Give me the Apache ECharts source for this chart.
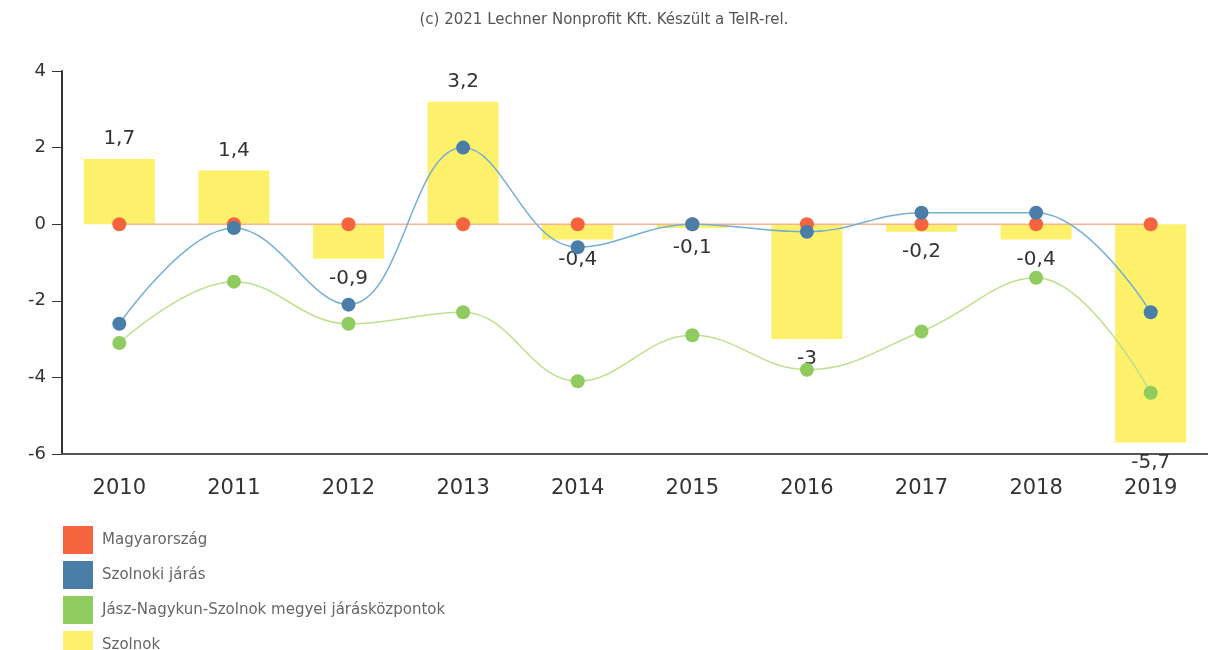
<!DOCTYPE html>
<html lang="hu" style="height: 100%">
<head>
  <meta charset="utf-8">
</head>
<body style="height: 100%; margin: 0; background: #fff">
  <div id="container" style="width: 1208px; height: 650px"></div>

  <script type="text/javascript" src="https://fastly.jsdelivr.net/npm/echarts@6/dist/echarts.min.js"></script>

  <script type="text/javascript">
    var years = ['2010', '2011', '2012', '2013', '2014', '2015', '2016', '2017', '2018', '2019'];
    var magyarorszag = [0, 0, 0, 0, 0, 0, 0, 0, 0, 0];
    var szolnokiJaras = [-2.6, -0.1, -2.1, 2.0, -0.6, 0.0, -0.2, 0.3, 0.3, -2.3];
    var jaraskozpontok = [-3.1, -1.5, -2.6, -2.3, -4.1, -2.9, -3.8, -2.8, -1.4, -4.4];
    var szolnok = [1.7, 1.4, -0.9, 3.2, -0.4, -0.1, -3, -0.2, -0.4, -5.7];
    var yTicks = [-6, -4, -2, 0, 2, 4];

    var dom = document.getElementById('container');
    var myChart = echarts.init(dom, null, { renderer: 'canvas' });

    function comma(v) {
      return String(v).replace('.', ',');
    }

    function lineSeries(name, data, dotColor, lineColor) {
      return {
        name: name,
        type: 'line',
        data: data,
        smooth: 0.4,
        symbol: 'circle',
        symbolSize: 14,
        z: 3,
        itemStyle: { color: dotColor },
        lineStyle: { color: lineColor, width: 1.5 }
      };
    }

    var option = {
      animation: false,
      title: {
        text: '(c) 2021 Lechner Nonprofit Kft. Készült a TeIR-rel.',
        left: 'center',
        top: 8,
        textStyle: { fontSize: 15, fontWeight: 'normal', color: '#555', fontFamily: 'DejaVu Sans' }
      },
      legend: {
        orient: 'vertical',
        left: 58,
        top: 521,
        height: 200,
        itemWidth: 30,
        itemHeight: 28,
        itemGap: 7,
        icon: 'rect',
        textStyle: { fontSize: 15, color: '#666', fontFamily: 'DejaVu Sans', padding: [0, 0, 0, 4] },
        data: ['Magyarország', 'Szolnoki járás', 'Jász-Nagykun-Szolnok megyei járásközpontok', 'Szolnok']
      },
      grid: { left: 62, right: 0, top: 71, bottom: 196 },
      xAxis: {
        type: 'category',
        data: years,
        axisLine: { onZero: false, lineStyle: { color: '#555', width: 2 } },
        axisTick: { alignWithLabel: true, length: 6, lineStyle: { color: '#555' } },
        axisLabel: { fontSize: 21, color: '#333', margin: 24, fontFamily: 'DejaVu Sans' }
      },
      yAxis: {
        type: 'value',
        min: yTicks[0],
        max: yTicks[yTicks.length - 1],
        interval: 2,
        splitLine: { show: false },
        axisLine: { show: true, lineStyle: { color: '#333', width: 2 } },
        axisTick: { show: true, length: 10, lineStyle: { color: '#333' } },
        axisLabel: { fontSize: 18, color: '#333', margin: 16, fontFamily: 'DejaVu Sans' }
      },
      series: [
        lineSeries('Magyarország', magyarorszag, '#f5643e', '#f6b48f'),
        lineSeries('Szolnoki járás', szolnokiJaras, '#4a7ea8', '#74aed3'),
        lineSeries('Jász-Nagykun-Szolnok megyei járásközpontok', jaraskozpontok, '#8fcb5e', '#bfe08e'),
        {
          name: 'Szolnok',
          type: 'bar',
          barWidth: '62%',
          z: 1,
          itemStyle: { color: '#fdf06a' },
          data: szolnok.map(function (v) {
            return {
              value: v,
              label: {
                show: true,
                position: v >= 0 ? 'top' : 'bottom',
                distance: 10,
                formatter: function (p) { return comma(p.value); },
                fontSize: 20,
                color: '#333',
                fontFamily: 'DejaVu Sans'
              }
            };
          })
        }
      ]
    };

    myChart.setOption(option);
    window.addEventListener('resize', myChart.resize);
  </script>
</body>
</html>
